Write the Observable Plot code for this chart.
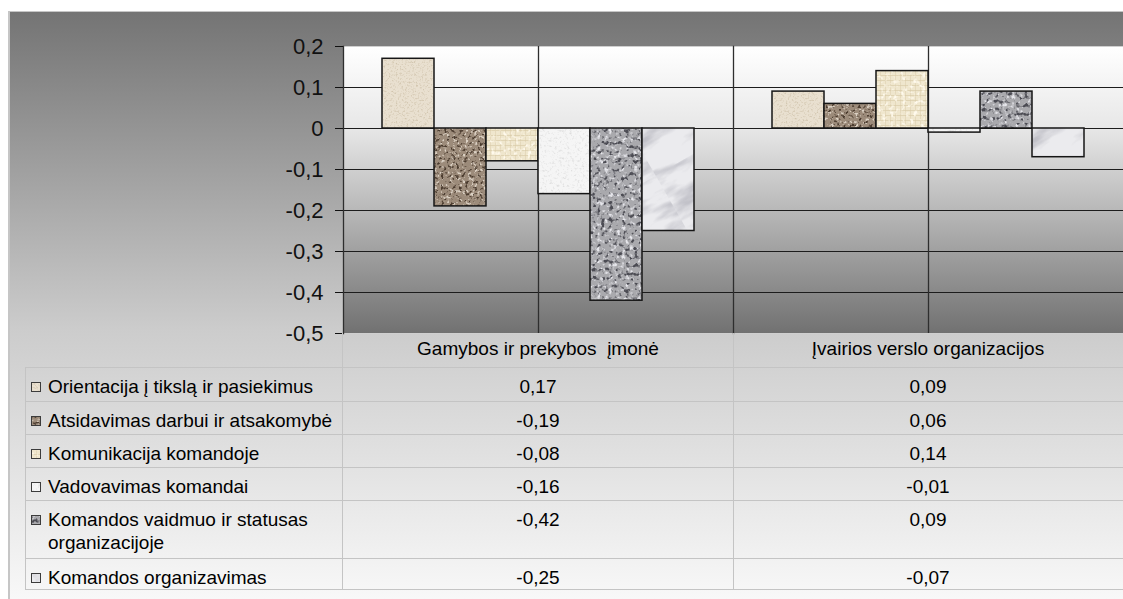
<!DOCTYPE html>
<html lang="lt">
<head>
<meta charset="utf-8">
<title>Komandos rodikliai</title>
<script src="https://cdn.jsdelivr.net/npm/d3@7"></script>
<script src="https://cdn.jsdelivr.net/npm/@observablehq/plot@0.6"></script>
<style>
  html, body { margin: 0; padding: 0; background: #ffffff; }
  body { width: 1123px; height: 599px; overflow: hidden; position: relative;
         font-family: "Liberation Sans", Arial, sans-serif; color: #000; }
  #panel { position: absolute; left: 8px; top: 11px; width: 1115px; height: 588px;
           box-sizing: border-box; border-left: 2px solid #c6c6c6; border-top: 1px solid #c6c6c6;
           background: linear-gradient(to bottom, #747474 0%, #cccccc 54%, #f8f8f8 100%); }
  #chart { position: absolute; left: 0; top: 0; }
  .ln { position: absolute; background: #c4c4c4; }
  .tx { position: absolute; font-size: 19px; line-height: 23px; white-space: pre; }
  .key { position: absolute; width: 10px; height: 10px; }
</style>
</head>
<body>
<svg width="0" height="0" style="position:absolute">
  <defs>
    <linearGradient id="plotBg" x1="0" y1="0" x2="0" y2="1">
      <stop offset="0" stop-color="#ffffff"/>
      <stop offset="0.286" stop-color="#e7e7e7"/>
      <stop offset="1" stop-color="#717171"/>
    </linearGradient>

    <!-- light beige stone -->
    <filter id="nzOrient" x="0" y="0" width="1" height="1" color-interpolation-filters="sRGB">
      <feTurbulence type="fractalNoise" baseFrequency="0.55" numOctaves="2" seed="2"/>
      <feColorMatrix type="matrix" values="0 0 0 0 0.82  0 0 0 0 0.77  0 0 0 0 0.68  3 0 0 0 -1.5"/>
    </filter>
    <pattern id="texOrient" patternUnits="userSpaceOnUse" width="160" height="160">
      <rect width="160" height="160" fill="#e9e0d0"/>
      <rect width="160" height="160" fill="#000" filter="url(#nzOrient)"/>
    </pattern>

    <!-- brown granite -->
    <filter id="nzAtsid" x="0" y="0" width="1" height="1" color-interpolation-filters="sRGB">
      <feTurbulence type="fractalNoise" baseFrequency="0.33" numOctaves="2" seed="5" result="t"/>
      <feColorMatrix in="t" type="matrix" values="0 0 0 0 0.30  0 0 0 0 0.24  0 0 0 0 0.19  6 0 0 0 -3.35" result="dark"/>
      <feColorMatrix in="t" type="matrix" values="0 0 0 0 0.86  0 0 0 0 0.82  0 0 0 0 0.77  0 6 0 0 -3.35" result="light"/>
      <feMerge><feMergeNode in="light"/><feMergeNode in="dark"/></feMerge>
    </filter>
    <pattern id="texAtsid" patternUnits="userSpaceOnUse" width="160" height="160">
      <rect width="160" height="160" fill="#9c8b7a"/>
      <rect width="160" height="160" fill="#000" filter="url(#nzAtsid)"/>
    </pattern>

    <!-- linen weave -->
    <pattern id="weave" patternUnits="userSpaceOnUse" width="5" height="5">
      <rect width="5" height="5" fill="#efe6cd"/>
      <rect y="0" width="5" height="1" fill="#d2c19b" fill-opacity="0.5"/>
      <rect x="0" width="1" height="5" fill="#dacba6" fill-opacity="0.45"/>
    </pattern>
    <filter id="nzKomun" x="0" y="0" width="1" height="1" color-interpolation-filters="sRGB">
      <feTurbulence type="fractalNoise" baseFrequency="0.25" numOctaves="2" seed="9"/>
      <feColorMatrix type="matrix" values="0 0 0 0 1  0 0 0 0 0.98  0 0 0 0 0.93  4 0 0 0 -2.1"/>
    </filter>
    <pattern id="texKomun" patternUnits="userSpaceOnUse" width="160" height="160">
      <rect width="160" height="160" fill="url(#weave)"/>
      <rect width="160" height="160" fill="#000" filter="url(#nzKomun)"/>
    </pattern>

    <!-- white paper -->
    <filter id="nzVadov" x="0" y="0" width="1" height="1" color-interpolation-filters="sRGB">
      <feTurbulence type="fractalNoise" baseFrequency="0.4" numOctaves="3" seed="4"/>
      <feColorMatrix type="matrix" values="0 0 0 0 0.86  0 0 0 0 0.86  0 0 0 0 0.86  2.5 0 0 0 -1.3"/>
    </filter>
    <pattern id="texVadov" patternUnits="userSpaceOnUse" width="160" height="160">
      <rect width="160" height="160" fill="#f5f5f5"/>
      <rect width="160" height="160" fill="#000" filter="url(#nzVadov)"/>
    </pattern>

    <!-- grey granite -->
    <filter id="nzVaidm" x="0" y="0" width="1" height="1" color-interpolation-filters="sRGB">
      <feTurbulence type="fractalNoise" baseFrequency="0.24" numOctaves="2" seed="11" result="t"/>
      <feColorMatrix in="t" type="matrix" values="0 0 0 0 0.30  0 0 0 0 0.30  0 0 0 0 0.33  5.5 0 0 0 -3.0" result="dark"/>
      <feColorMatrix in="t" type="matrix" values="0 0 0 0 0.90  0 0 0 0 0.90  0 0 0 0 0.92  0 5 0 0 -2.7" result="light"/>
      <feMerge><feMergeNode in="light"/><feMergeNode in="dark"/></feMerge>
    </filter>
    <pattern id="texVaidm" patternUnits="userSpaceOnUse" width="160" height="160">
      <rect width="160" height="160" fill="#a9a9ad"/>
      <rect width="160" height="160" fill="#000" filter="url(#nzVaidm)"/>
    </pattern>

    <!-- white marble -->
    <filter id="nzOrgan" x="0" y="0" width="1" height="1" color-interpolation-filters="sRGB">
      <feTurbulence type="fractalNoise" baseFrequency="0.018 0.06" numOctaves="4" seed="7"/>
      <feColorMatrix type="matrix" values="0 0 0 0 0.74  0 0 0 0 0.74  0 0 0 0 0.77  3 0 0 0 -1.4"/>
    </filter>
    <pattern id="texOrgan" patternUnits="userSpaceOnUse" width="240" height="240" patternTransform="rotate(-30)">
      <rect width="240" height="240" fill="#ebebee"/>
      <rect width="240" height="240" fill="#000" filter="url(#nzOrgan)"/>
    </pattern>
  </defs>
</svg>

<div id="panel"></div>
<div id="chart"></div>
<div id="table"></div>

<script>
// Column headings (categories) and the six series shown in the data table
const categories = ["Gamybos ir prekybos  įmonė", "Įvairios verslo organizacijos"];
const series = [
  "Orientacija į tikslą ir pasiekimus",
  "Atsidavimas darbui ir atsakomybė",
  "Komunikacija komandoje",
  "Vadovavimas komandai",
  "Komandos vaidmuo ir statusas organizacijoje",
  "Komandos organizavimas"
];
const valuesGamybos = [0.17, -0.19, -0.08, -0.16, -0.42, -0.25];
const valuesIvairios = [0.09, 0.06, 0.14, -0.01, 0.09, -0.07];
const yTicks = [0.2, 0.1, 0, -0.1, -0.2, -0.3, -0.4, -0.5];
const yGrid = [0.1, 0, -0.1, -0.2, -0.3, -0.4];

// Fill texture of each series, in series order
const seriesTextures = ["texOrient", "texAtsid", "texKomun", "texVadov", "texVaidm", "texOrgan"];

const valuesByCategory = [valuesGamybos, valuesIvairios];
const rows = categories.flatMap((category, ci) =>
  series.map((s, si) => ({
    category,
    series: s,
    value: valuesByCategory[ci][si],
    texture: `url(#${seriesTextures[si]})`
  }))
);

const fmtTick = d => d === 0 ? "0" : d.toFixed(1).replace(".", ",");
const fmtValue = d => d.toFixed(2).replace(".", ",");

const chart = Plot.plot({
  width: 1123,
  height: 340,
  marginTop: 46,
  marginBottom: 7,
  marginLeft: 343,
  marginRight: 0,
  style: {background: "transparent", fontFamily: "'Liberation Sans', Arial, sans-serif", overflow: "visible"},
  fx: {domain: categories, padding: 0, axis: null},
  x: {domain: series, paddingInner: 0, paddingOuter: 0.75, axis: null},
  y: {domain: [-0.5, 0.2], axis: null, label: null},
  color: {type: "identity"},
  marks: [
    Plot.frame({fill: "url(#plotBg)", stroke: "#cfcfcf"}),
    Plot.ruleY(yGrid, {stroke: "#1c1c1c", strokeWidth: 1.2}),
    Plot.ruleX([0], {x: null, stroke: "#2e2e2e", strokeWidth: 1.3}),
    Plot.frame({anchor: "left", stroke: "#2e2e2e", strokeWidth: 1.3}),
    Plot.barY(rows, {fx: "category", x: "series", y: "value", fill: "texture", stroke: "#161616", strokeWidth: 1.5}),
    Plot.axisY({ticks: yTicks, tickFormat: fmtTick, tickSize: 8, tickPadding: 12, fontSize: 22, color: "#111", label: null})
  ]
});
document.getElementById("chart").appendChild(chart);

// Data table under the chart
const table = document.getElementById("table");
const colEdges = [25, 343, 733, 1123];
const headerTop = 333;
const rowHeights = [34, 33, 33, 33, 58, 31];
const rowTops = [];
let yPos = 367;
for (const h of rowHeights) { rowTops.push(yPos); yPos += h; }
const tableBottom = yPos;

function line(x, y, w, h) {
  const el = document.createElement("div");
  el.className = "ln";
  Object.assign(el.style, {left: x + "px", top: y + "px", width: w + "px", height: h + "px"});
  table.appendChild(el);
}
function text(str, x, y, w, align) {
  const el = document.createElement("div");
  el.className = "tx";
  el.textContent = str;
  Object.assign(el.style, {left: x + "px", top: y + "px", width: w + "px", textAlign: align});
  if (align === "left") el.style.whiteSpace = "normal";
  table.appendChild(el);
}

[...rowTops, tableBottom].forEach(y => line(colEdges[0], y, colEdges[3] - colEdges[0], 1));
line(colEdges[0], rowTops[0], 1, tableBottom - rowTops[0]);
line(colEdges[1] - 1, headerTop, 1, tableBottom - headerTop);
line(colEdges[2], headerTop, 1, tableBottom - headerTop);

categories.forEach((c, ci) => text(c, colEdges[ci + 1], headerTop + 4, colEdges[ci + 2] - colEdges[ci + 1], "center"));

series.forEach((s, si) => {
  const top = rowTops[si];
  const key = document.createElementNS("http://www.w3.org/2000/svg", "svg");
  key.setAttribute("class", "key");
  key.setAttribute("width", 10);
  key.setAttribute("height", 10);
  key.style.left = "31px";
  key.style.top = (top + 15) + "px";
  key.innerHTML = `<rect x="0.5" y="0.5" width="9" height="9" fill="url(#${seriesTextures[si]})" stroke="#3c3c3c" stroke-width="1"/>`;
  table.appendChild(key);
  text(s, 48, top + 8, 292, "left");
  valuesByCategory.forEach((vals, ci) =>
    text(fmtValue(vals[si]), colEdges[ci + 1], top + 8, colEdges[ci + 2] - colEdges[ci + 1], "center"));
});
</script>
</body>
</html>
